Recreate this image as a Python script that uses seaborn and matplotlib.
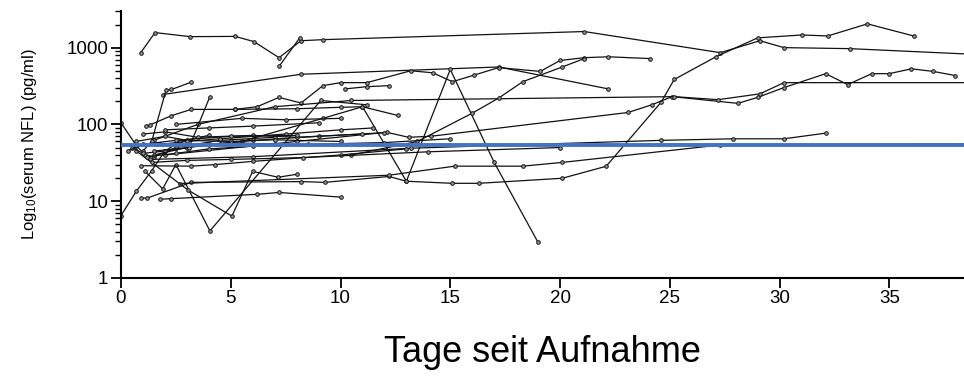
import matplotlib
matplotlib.use('Agg')
import matplotlib.pyplot as plt
import seaborn as sns
import pandas as pd
import numpy as np
from matplotlib.ticker import LogLocator, NullFormatter

# serum NfL course per patient (days since admission, pg/ml)
pt01_day = [0.9, 1.55, 3.15, 5.2, 6.05, 7.2, 8.2, 9.2, 21.1, 27.3, 29.1, 30.2, 33.2, 40]
pt01_nfl = [860, 1570, 1390, 1400, 1200, 740, 1230, 1270, 1620, 860, 1230, 1000, 970, 790]
pt02_day = [7.2, 8.15]
pt02_nfl = [570, 1350]
pt03_day = [1.9, 8.2, 17.2, 22.2]
pt03_nfl = [245, 450, 560, 290]
pt04_day = [5.2, 6.2, 7.2, 8.2, 9.2, 10.0, 11.2, 13.2, 14.2, 15.1, 16.1, 17.2, 19.1, 20.0, 21.1, 22.2, 24.1]
pt04_nfl = [157, 170, 225, 190, 320, 350, 350, 500, 470, 360, 440, 550, 490, 680, 740, 760, 720]
pt05_day = [0.9, 1.2, 3.2, 8.2, 9.3, 12.2, 13.0, 15.1, 16.3, 20.1, 22.1, 24.6, 25.2, 27.1, 29.0, 31.0, 32.2, 34.0, 36.1]
pt05_nfl = [11, 11, 17.6, 18, 17.6, 21, 18.2, 17.1, 17.1, 19.9, 28.5, 194, 385, 760, 1340, 1460, 1420, 2040, 1420]
pt06_day = [5.5, 9.2, 11.0, 13.0, 15.0, 17.0, 19.0]
pt06_nfl = [60, 120, 170, 18.2, 520, 32, 2.9]
pt07_day = [2.0, 8.0, 12.1, 13.1, 14.1, 23.1, 24.2, 25.1, 28.1, 29.0, 30.2, 32.1, 33.1, 34.2, 35.0, 36.0, 37.0, 38.0]
pt07_nfl = [40, 60, 79, 68, 70, 143, 181, 230, 188, 225, 302, 458, 330, 458, 458, 530, 490, 433]
pt08_day = [1.5, 3.5, 7.0, 10.5, 25.2, 27.2, 29.1, 30.2, 40]
pt08_nfl = [62, 100, 170, 205, 230, 210, 250, 350, 350]
pt09_day = [1.3, 6.0, 13.2, 24.6, 27.9, 30.2, 32.1]
pt09_nfl = [35, 38, 49, 62, 65, 65, 77]
pt10_day = [10.5, 13.5, 16.0, 17.2, 18.3, 20.1, 21.1]
pt10_nfl = [40, 60, 140, 220, 360, 560, 720]
pt11_day = [2.7, 12.2, 15.2, 18.3, 20.1, 27.3, 40]
pt11_nfl = [17, 21.8, 28.6, 28.6, 32, 54, 56]
pt12_day = [1.8, 2.3, 6.2, 7.2, 10.0]
pt12_nfl = [10.6, 10.8, 12.3, 13, 11.3]
pt13_day = [1.1, 1.9, 2.5, 4.05, 9.1, 11.2]
pt13_nfl = [24.5, 14.5, 30, 4.1, 205, 180]
pt14_day = [0.7, 3.05, 5.05, 6.0, 7.15, 8.0]
pt14_nfl = [45, 14, 6.4, 24.5, 20.5, 22.4]
pt15_day = [1.15, 1.3, 2.3, 3.2, 5.2, 8.0, 10.0, 11.0, 12.6]
pt15_nfl = [95, 98, 130, 157, 157, 160, 167, 170, 131]
pt16_day = [0.0, 0.7, 1.1, 1.5, 2.5, 4.5, 7.0]
pt16_nfl = [105, 53, 40, 38, 50, 62, 68]
pt17_day = [10.2, 11.2, 12.2]
pt17_nfl = [290, 310, 320]
pt18_day = [0.0, 0.7, 1.4, 2.0, 2.7, 4.0]
pt18_nfl = [6.5, 13.5, 25, 45, 60, 72]
pt19_day = [1.0, 1.4, 2.05, 2.3, 3.2]
pt19_nfl = [45, 60, 280, 285, 355]
pt20_day = [0.9, 3.2, 4.3, 6.0, 10.0, 13.0]
pt20_nfl = [29, 28.6, 30, 33, 40, 48]
pt21_day = [0.5, 1.0, 2.0, 4.0, 6.0, 9.0, 12.0]
pt21_nfl = [50, 42, 45, 55, 62, 70, 78]
pt22_day = [0.7, 2.0, 3.0, 5.0, 7.0, 10.0]
pt22_nfl = [60, 70, 62, 60, 63, 60]
pt23_day = [1.0, 2.0, 3.5, 6.0, 8.0, 11.0]
pt23_nfl = [75, 80, 68, 72, 68, 75]
pt24_day = [1.5, 3.0, 5.0, 7.0]
pt24_nfl = [40, 50, 58, 55]
pt25_day = [1.2, 2.5, 4.0, 6.0, 8.5, 12.0, 15.0]
pt25_nfl = [38, 42, 48, 52, 55, 58, 65]
pt26_day = [2.0, 4.0, 6.0, 9.0]
pt26_nfl = [85, 90, 95, 105]
pt27_day = [1.8, 3.0, 4.5, 7.5, 10.0, 11.5]
pt27_nfl = [55, 60, 65, 75, 85, 90]
pt28_day = [0.3, 1.0, 2.5, 5.0, 8.0]
pt28_nfl = [45, 55, 62, 70, 72]
pt29_day = [2.5, 5.5, 7.5, 10.0]
pt29_nfl = [100, 120, 115, 120]
pt30_day = [1.4, 3.0, 5.0, 8.3, 14.0, 20.0]
pt30_nfl = [32, 34, 35, 37, 44, 50]
pt31_day = [1.5, 3.1, 4.05]
pt31_nfl = [45, 50, 230]

nfl_cutoff = 54

patients = [
    (pt01_day, pt01_nfl), (pt02_day, pt02_nfl), (pt03_day, pt03_nfl), (pt04_day, pt04_nfl),
    (pt05_day, pt05_nfl), (pt06_day, pt06_nfl), (pt07_day, pt07_nfl), (pt08_day, pt08_nfl),
    (pt09_day, pt09_nfl), (pt10_day, pt10_nfl), (pt11_day, pt11_nfl), (pt12_day, pt12_nfl),
    (pt13_day, pt13_nfl), (pt14_day, pt14_nfl), (pt15_day, pt15_nfl), (pt16_day, pt16_nfl),
    (pt17_day, pt17_nfl), (pt18_day, pt18_nfl), (pt19_day, pt19_nfl), (pt20_day, pt20_nfl),
    (pt21_day, pt21_nfl), (pt22_day, pt22_nfl), (pt23_day, pt23_nfl), (pt24_day, pt24_nfl),
    (pt25_day, pt25_nfl), (pt26_day, pt26_nfl), (pt27_day, pt27_nfl), (pt28_day, pt28_nfl),
    (pt29_day, pt29_nfl), (pt30_day, pt30_nfl), (pt31_day, pt31_nfl),
]

rows = []
for i, (days, vals) in enumerate(patients):
    for d, v in zip(days, vals):
        rows.append((i, d, v))
df = pd.DataFrame(rows, columns=['patient', 'tag', 'nfl'])

sns.set_style('ticks')
plt.rcParams['font.family'] = ['Liberation Sans', 'DejaVu Sans']
plt.rcParams['mathtext.default'] = 'regular'
plt.rcParams['text.color'] = 'black'
plt.rcParams['axes.labelcolor'] = 'black'

fig = plt.figure(figsize=(9.64, 3.79), dpi=100)
ax = fig.add_axes([0.1255, 0.2665, 0.8745, 0.7045])

sns.lineplot(data=df, x='tag', y='nfl', units='patient', estimator=None, sort=False,
             color='#111111', lw=0.9, marker='o', markersize=2.6,
             markerfacecolor='#999999', markeredgecolor='#111111', markeredgewidth=0.7,
             legend=False, ax=ax)
ax.axhline(nfl_cutoff, color='#4472c4', lw=2.8, zorder=5)

ax.set_yscale('log')
ax.set_ylim(1, 3000)
ax.set_xlim(0, 38.4)
ax.set_yticks([1, 10, 100, 1000])
ax.set_yticklabels(['1', '10', '100', '1000'])
ax.yaxis.set_minor_locator(LogLocator(base=10, subs=np.arange(2, 10)))
ax.yaxis.set_minor_formatter(NullFormatter())
ax.set_xticks([0, 5, 10, 15, 20, 25, 30, 35])

sns.despine(ax=ax)
for s in ['left', 'bottom']:
    ax.spines[s].set_linewidth(1.5)
    ax.spines[s].set_color('black')
ax.tick_params(axis='both', which='major', length=7, width=1.3, labelsize=13.5, colors='black', pad=2)
ax.tick_params(axis='y', which='minor', length=4, width=1.0, colors='black')

ax.set_ylabel(r'Log$_{10}$(serum NFL) (pg/ml)', fontsize=12, color='black')
ax.yaxis.set_label_coords(-0.097, 0.5)
ax.set_xlabel('Tage seit Aufnahme', fontsize=26, color='black')
ax.xaxis.set_label_coords(0.5, -0.215)

fig.savefig('out.png', dpi=100)
